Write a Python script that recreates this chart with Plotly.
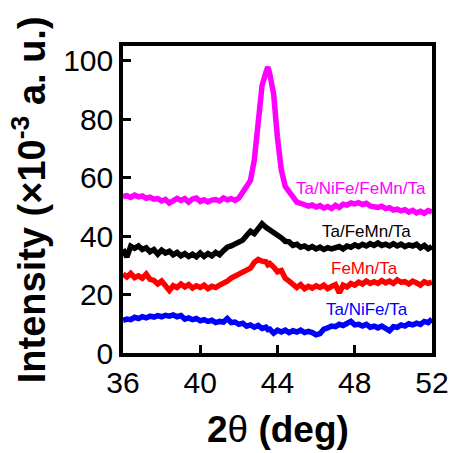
import plotly.graph_objects as go

two_theta = [36.0, 36.2, 36.4, 36.6, 36.8, 37.0, 37.2, 37.4, 37.6, 37.8,
             38.0, 38.2, 38.4, 38.6, 38.8, 39.0, 39.2, 39.4, 39.6, 39.8,
             40.0, 40.2, 40.4, 40.6, 40.8, 41.0, 41.2, 41.4, 41.6, 41.8,
             42.0, 42.2, 42.4, 42.6, 42.8, 43.0, 43.2, 43.4, 43.5, 43.6, 43.8,
             44.0, 44.2, 44.4, 44.6, 44.8, 45.0, 45.2, 45.4, 45.6, 45.8,
             46.0, 46.2, 46.4, 46.6, 46.8, 47.0, 47.2, 47.4, 47.6, 47.8,
             48.0, 48.2, 48.4, 48.6, 48.8, 49.0, 49.2, 49.4, 49.6, 49.8,
             50.0, 50.2, 50.4, 50.6, 50.8, 51.0, 51.2, 51.4, 51.6, 51.8, 52.0]

ta_nife_femn_ta = [53.5, 53.8, 53.2, 54.0, 53.4, 53.7, 52.9, 53.3, 52.6, 52.8,
                   52.0, 52.5, 51.3, 52.4, 52.9, 52.2, 52.8, 51.6, 52.7, 53.0,
                   51.8, 52.4, 51.7, 52.3, 52.5, 52.0, 53.0, 52.4, 52.8, 52.2,
                   53.0, 55.0, 56.8, 59.0, 66.0, 79.5, 91.5, 96.0, 97.8, 95.5, 88.5,
                   73.5, 62.5, 57.0, 55.3, 53.0, 51.6, 51.2, 50.8, 50.2, 50.6,
                   49.9, 50.4, 49.6, 50.1, 49.4, 50.5, 49.8, 50.9, 50.6, 51.3,
                   51.0, 51.4, 50.8, 51.2, 50.3, 50.0, 49.8, 50.2, 49.4, 49.7,
                   48.9, 49.2, 48.6, 49.0, 48.2, 48.8, 47.9, 48.5, 47.8, 48.7, 48.3]

ta_femn_ta = [35.5, 32.8, 36.5, 35.8, 36.6, 35.4, 36.0, 34.6, 35.4, 33.8,
              35.2, 34.2, 34.8, 33.6, 34.4, 33.2, 34.0, 33.0, 33.8, 32.9,
              34.2, 33.0, 34.0, 33.2, 34.4, 33.6, 35.0, 36.2, 36.6, 37.4,
              37.8, 38.6, 40.2, 41.6, 40.8, 42.2, 44.2, 43.0, 42.6, 41.8, 41.2,
              40.2, 39.4, 38.2, 38.0, 36.8, 37.2, 36.2, 36.6, 35.8, 36.4,
              35.6, 36.2, 35.4, 36.0, 35.6, 35.8, 36.4, 35.6, 36.6, 36.2,
              37.0, 36.4, 37.2, 36.6, 37.4, 36.8, 37.6, 36.8, 37.2, 36.6,
              37.4, 36.6, 37.2, 36.4, 37.0, 36.6, 37.2, 36.0, 36.8, 35.6, 36.4]

femn_ta = [27.0, 26.0, 27.2, 25.8, 26.4, 25.6, 27.0, 25.2, 24.8, 23.6,
           24.6, 23.0, 21.4, 23.0, 22.4, 23.6, 22.6, 23.4, 22.2, 23.0,
           22.4, 23.2, 22.0, 22.8, 22.4, 23.2, 23.8, 24.6, 25.6, 26.2,
           26.8, 27.4, 28.0, 29.0, 31.0, 32.0, 31.4, 31.2, 30.2, 30.6, 29.4,
           27.8, 28.2, 25.6, 24.6, 23.4, 22.4, 23.4, 22.0, 22.8, 22.2,
           23.0, 22.4, 23.2, 22.0, 22.8, 23.4, 20.6, 23.2, 22.6, 23.8,
           23.2, 24.2, 23.6, 24.6, 23.8, 24.4, 23.8, 24.8, 24.0, 24.6,
           23.8, 25.0, 24.2, 24.4, 23.6, 24.6, 24.0, 23.2, 24.4, 23.8, 24.2]

ta_nife_ta = [11.2, 11.6, 11.4, 12.2, 11.8, 12.4, 12.0, 12.6, 12.3, 12.8,
              12.4, 12.9, 12.6, 13.0, 12.4, 12.8, 11.6, 12.0, 11.4, 11.8,
              11.0, 11.4, 10.8, 11.2, 10.4, 10.8, 10.6, 11.8, 10.4, 10.6,
              9.8, 10.2, 9.2, 9.6, 8.8, 9.4, 8.4, 8.8, 8.0, 8.2, 6.8,
              7.8, 7.2, 7.8, 7.0, 7.6, 7.2, 7.8, 7.0, 7.4, 7.0,
              6.2, 6.6, 8.2, 8.6, 9.2, 9.0, 9.8, 9.4, 10.2, 10.8,
              9.6, 9.8, 9.2, 9.8, 8.8, 9.2, 8.6, 9.2, 8.4, 7.6,
              9.0, 8.8, 9.6, 9.2, 10.0, 9.6, 10.2, 9.8, 10.8, 10.4, 11.6]

series_names = ["Ta/NiFe/FeMn/Ta", "Ta/FeMn/Ta", "FeMn/Ta", "Ta/NiFe/Ta"]
series_values = [ta_nife_femn_ta, ta_femn_ta, femn_ta, ta_nife_ta]
series_colors = ["#FF00FF", "#000000", "#FF0000", "#0000FF"]
label_x = [48.33, 48.59, 48.53, 48.64]
label_y = [56.2, 41.6, 29.0, 15.0]

x_ticks = [36, 40, 44, 48, 52]
y_ticks = [0, 20, 40, 60, 80, 100]

FONT = "Arial, 'Liberation Sans', sans-serif"

fig = go.Figure()
for name, vals, col in zip(series_names, series_values, series_colors):
    fig.add_trace(go.Scatter(x=two_theta, y=vals, mode="lines", name=name,
                             line=dict(color=col, width=5.5)))

for name, lx, ly, col in zip(series_names, label_x, label_y, series_colors):
    fig.add_annotation(x=lx, y=ly, text=name, showarrow=False, xref="x", yref="y",
                       font=dict(family=FONT, size=17, color=col),
                       xanchor="center", yanchor="middle")

fig.add_annotation(xref="paper", yref="paper", x=0.5, y=-0.25,
                   text="<b>2</b><span style='font-weight:normal'>θ</span><b> (deg)</b>",
                   showarrow=False, xanchor="center", yanchor="middle",
                   font=dict(family=FONT, size=37, color="black"))
fig.add_annotation(xref="paper", yref="paper", x=-0.305, y=0.5, textangle=-90,
                   text="<b>Intensity (×10<sup>-3</sup> a. u.)</b>",
                   showarrow=False, xanchor="center", yanchor="middle",
                   font=dict(family=FONT, size=38, color="black"))

axis_common = dict(showgrid=False, zeroline=False, showline=True, linecolor="black",
                   linewidth=3.5, mirror=True, ticks="inside", ticklen=8, tickwidth=3,
                   tickcolor="black", automargin=False,
                   tickfont=dict(family=FONT, size=30, color="black"))

fig.update_xaxes(range=[36, 52], tickvals=x_ticks, ticktext=[str(v) for v in x_ticks],
                 **axis_common)
fig.update_yaxes(range=[0, 105], tickvals=y_ticks, ticktext=[str(v) for v in y_ticks],
                 **axis_common)

fig.update_layout(width=449, height=453, showlegend=False,
                  margin=dict(l=123, r=17, t=46, b=100),
                  paper_bgcolor="white", plot_bgcolor="white")

fig.write_html("out.html", config={"displayModeBar": False},
               post_script="document.body.style.margin='0';document.body.style.overflow='hidden';")
